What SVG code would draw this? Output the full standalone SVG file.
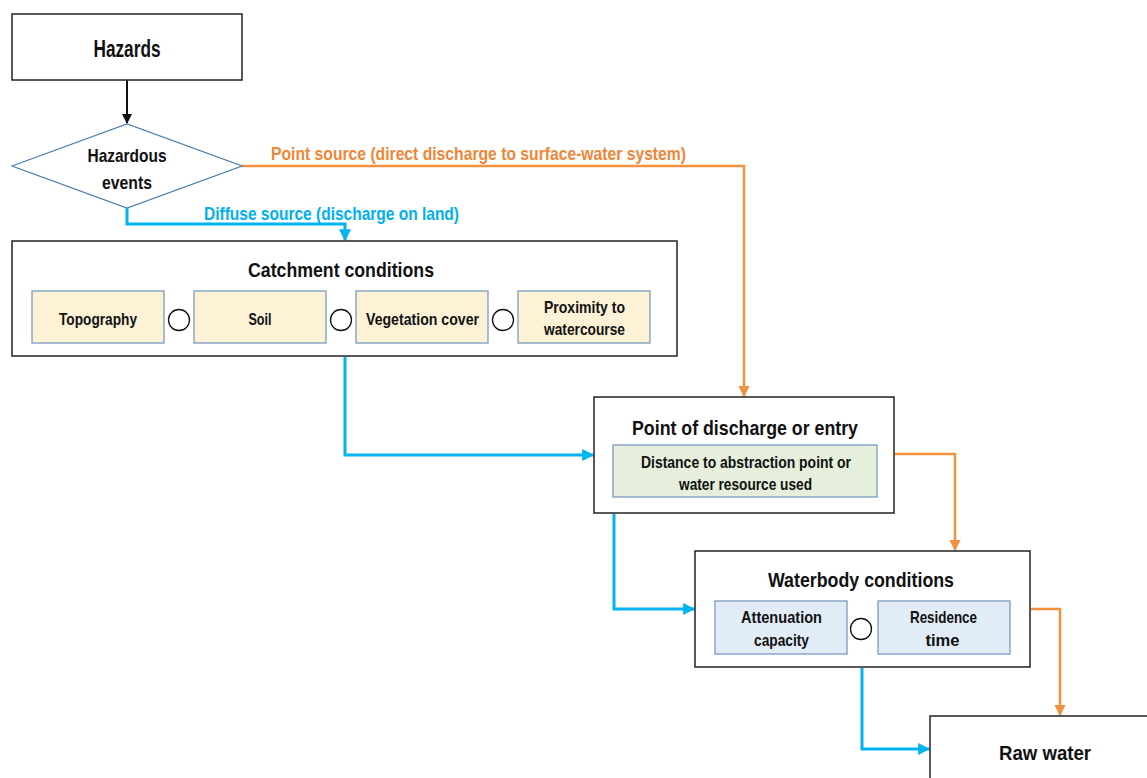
<svg xmlns="http://www.w3.org/2000/svg" width="1147" height="778" viewBox="0 0 1147 778">
<style>
text{font-family:"Liberation Sans","DejaVu Sans",sans-serif;font-weight:bold;text-anchor:middle;fill:#111}
.box{fill:#fff;stroke:#222;stroke-width:1.5}
.cat{fill:#fdf1d6;stroke:#6f93bd;stroke-width:1.2}
.grn{fill:#e5efdc;stroke:#6f93bd;stroke-width:1.2}
.wb{fill:#e2ecf7;stroke:#6f93bd;stroke-width:1.2}
.or{fill:#fff;stroke:#111;stroke-width:1.3}
.t1{font-size:23px}
.t2{font-size:21px}
.t3{font-size:17px}
.lab{font-size:19px}
.blue{fill:none;stroke:#00b4ef;stroke-width:3}
.orange{fill:none;stroke:#f2913f;stroke-width:2.5}
</style>
<defs>
<marker id="ab" viewBox="0 0 10 10" refX="9" refY="5" markerWidth="4" markerHeight="4" orient="auto" markerUnits="strokeWidth"><path d="M0,0L10,5L0,10z" fill="#00b4ef"/></marker>
<marker id="ao" viewBox="0 0 10 10" refX="9" refY="5" markerWidth="4.6" markerHeight="4.6" orient="auto" markerUnits="strokeWidth"><path d="M0,0L10,5L0,10z" fill="#f2913f"/></marker>
<marker id="ak" viewBox="0 0 10 10" refX="9" refY="5" markerWidth="5" markerHeight="5" orient="auto" markerUnits="strokeWidth"><path d="M0,0L10,5L0,10z" fill="#111"/></marker>
</defs>

<g id="connectors">
<path d="M127,80V123" fill="none" stroke="#111" stroke-width="2" marker-end="url(#ak)"/>
<path class="orange" d="M242,166H744V396" marker-end="url(#ao)"/>
<path class="blue" d="M127,208V224H345V240" marker-end="url(#ab)"/>
<path class="blue" d="M345,357V455H593" marker-end="url(#ab)"/>
<path class="orange" d="M895,454H955V550" marker-end="url(#ao)"/>
<path class="blue" d="M614,514V609H694" marker-end="url(#ab)"/>
<path class="orange" d="M1031,609H1060V715" marker-end="url(#ao)"/>
<path class="blue" d="M862,668V749H929" marker-end="url(#ab)"/>
<text class="lab" x="478.5" y="160" textLength="415" lengthAdjust="spacingAndGlyphs" style="fill:#ef8637">Point source (direct discharge to surface-water system)</text>
<text class="lab" x="331.5" y="220" textLength="255" lengthAdjust="spacingAndGlyphs" style="fill:#00b0ee">Diffuse source (discharge on land)</text>
</g>

<g id="hazards">
<rect class="box" x="12" y="14" width="230" height="66"/>
<text class="t1" x="127" y="57" textLength="67" lengthAdjust="spacingAndGlyphs">Hazards</text>
</g>

<g id="hazardous-events">
<path d="M12,166L127,124L242,166L127,208z" fill="#fff" stroke="#4f7fae" stroke-width="1.3"/>
<text class="lab" x="127" y="162" textLength="79" lengthAdjust="spacingAndGlyphs">Hazardous</text>
<text class="lab" x="127" y="189" textLength="50" lengthAdjust="spacingAndGlyphs">events</text>
</g>

<g id="catchment">
<rect class="box" x="12" y="241" width="665" height="115"/>
<text class="t2" x="341" y="277" textLength="186" lengthAdjust="spacingAndGlyphs">Catchment conditions</text>
<rect class="cat" x="32" y="291" width="132" height="52"/>
<text class="t3" x="98" y="325" textLength="78" lengthAdjust="spacingAndGlyphs">Topography</text>
<circle class="or" cx="179" cy="320" r="10.5"/>
<rect class="cat" x="194" y="291" width="132" height="52"/>
<text class="t3" x="260" y="325" textLength="23" lengthAdjust="spacingAndGlyphs">Soil</text>
<circle class="or" cx="341" cy="320" r="10.5"/>
<rect class="cat" x="356" y="291" width="132" height="52"/>
<text class="t3" x="422.5" y="325" textLength="113" lengthAdjust="spacingAndGlyphs">Vegetation cover</text>
<circle class="or" cx="503" cy="320" r="10.5"/>
<rect class="cat" x="518" y="291" width="132" height="52"/>
<text class="t3" x="584.5" y="313" textLength="81" lengthAdjust="spacingAndGlyphs">Proximity to</text>
<text class="t3" x="584.5" y="335" textLength="81" lengthAdjust="spacingAndGlyphs">watercourse</text>
</g>

<g id="point-of-discharge">
<rect class="box" x="594" y="397" width="300" height="116"/>
<text class="t2" x="745" y="435" textLength="226" lengthAdjust="spacingAndGlyphs">Point of discharge or entry</text>
<rect class="grn" x="613" y="445" width="264" height="52"/>
<text class="t3" x="746" y="468" textLength="210" lengthAdjust="spacingAndGlyphs">Distance to abstraction point or</text>
<text class="t3" x="745.5" y="490" textLength="133" lengthAdjust="spacingAndGlyphs">water resource used</text>
</g>

<g id="waterbody">
<rect class="box" x="695" y="551" width="335" height="116"/>
<text class="t2" x="861" y="587" textLength="186" lengthAdjust="spacingAndGlyphs">Waterbody conditions</text>
<rect class="wb" x="715" y="601" width="132" height="53"/>
<text class="t3" x="781.5" y="623" textLength="81" lengthAdjust="spacingAndGlyphs">Attenuation</text>
<text class="t3" x="781.5" y="646" textLength="55" lengthAdjust="spacingAndGlyphs">capacity</text>
<circle class="or" cx="861" cy="629" r="10.5"/>
<rect class="wb" x="878" y="601" width="132" height="53"/>
<text class="t3" x="943.5" y="623" textLength="67" lengthAdjust="spacingAndGlyphs">Residence</text>
<text class="t3" x="942.5" y="646" textLength="34" lengthAdjust="spacingAndGlyphs">time</text>
</g>

<g id="raw-water">
<rect class="box" x="930" y="716" width="230" height="80"/>
<text class="t2" x="1045" y="760" textLength="92" lengthAdjust="spacingAndGlyphs">Raw water</text>
</g>
</svg>
